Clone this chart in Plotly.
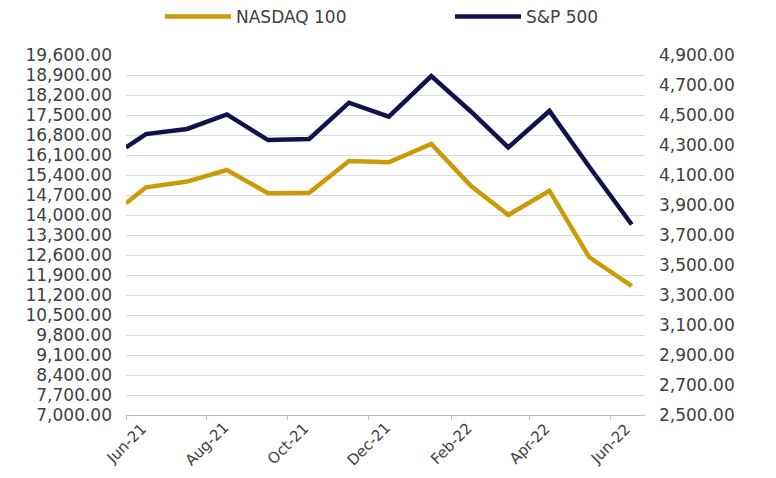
import plotly.graph_objects as go

dates = ["2021-06-01", "2021-06-16", "2021-07-17", "2021-08-16", "2021-09-16",
         "2021-10-17", "2021-11-16", "2021-12-16", "2022-01-17", "2022-02-16",
         "2022-03-16", "2022-04-16", "2022-05-16", "2022-06-17"]
nasdaq100 = [14410, 14970, 15170, 15575, 14760, 14780, 15890, 15845, 16485,
             15015, 14000, 14850, 12520, 11515]
sp500 = [4284, 4373, 4407, 4504, 4333, 4340, 4582, 4489, 4760, 4522, 4284,
         4527, 4155, 3770]
tick_dates = ["2021-06-01", "2021-08-01", "2021-10-01", "2021-12-01",
              "2022-02-01", "2022-04-01", "2022-06-01"]
tick_labels = ["Jun-21", "Aug-21", "Oct-21", "Dec-21", "Feb-22", "Apr-22", "Jun-22"]

GOLD = "#CC9A06"
NAVY = "#11114E"
FONT = "DejaVu Sans"
TXT = "#404040"

W, H = 760, 462  # page body has an 8px margin

fig = go.Figure()
fig.add_trace(go.Scatter(x=dates, y=nasdaq100, name="NASDAQ 100", mode="lines",
                         line=dict(color=GOLD, width=4.5), yaxis="y", legend="legend"))
fig.add_trace(go.Scatter(x=dates, y=sp500, name="S&P 500", mode="lines",
                         line=dict(color=NAVY, width=4.5), yaxis="y2", legend="legend2"))

leg_common = dict(orientation="h", yref="container", xref="container",
                  y=1 - 9 / H, yanchor="middle", xanchor="left",
                  font=dict(size=17, color=TXT), itemwidth=66,
                  bgcolor="rgba(0,0,0,0)")

for d, lab in zip(tick_dates, tick_labels):
    fig.add_annotation(x=d, y=0, xref="x", yref="paper", text=lab,
                       textangle=-45, showarrow=False, xanchor="center",
                       yanchor="middle", yshift=-29,
                       font=dict(family=FONT, size=15, color=TXT))

fig.update_layout(
    width=W, height=H,
    margin=dict(l=118, r=W - 637, t=47, b=H - 407, autoexpand=False),
    paper_bgcolor="white", plot_bgcolor="white",
    font=dict(family=FONT, size=17, color=TXT),
    showlegend=True,
    legend=dict(leg_common, x=152 / W),
    legend2=dict(leg_common, x=442 / W),
    xaxis=dict(type="date", range=["2021-06-01", "2022-06-27"],
               tickvals=tick_dates, showticklabels=False,
               ticks="outside", ticklen=4, tickcolor="#bfbfbf",
               showline=True, linecolor="#bfbfbf", linewidth=1,
               showgrid=False, zeroline=False),
    yaxis=dict(range=[7000, 19600], dtick=700, tick0=7000, tickformat=",.2f",
               showgrid=True, gridcolor="#d9d9d9", gridwidth=1,
               zeroline=False, ticks="", ticklabelstandoff=13),
    yaxis2=dict(range=[2500, 4900], dtick=200, tick0=2500, tickformat=",.2f",
                overlaying="y", side="right", showgrid=False, zeroline=False,
                ticks="", ticklabelstandoff=13),
)

fig.write_html("out.html")
